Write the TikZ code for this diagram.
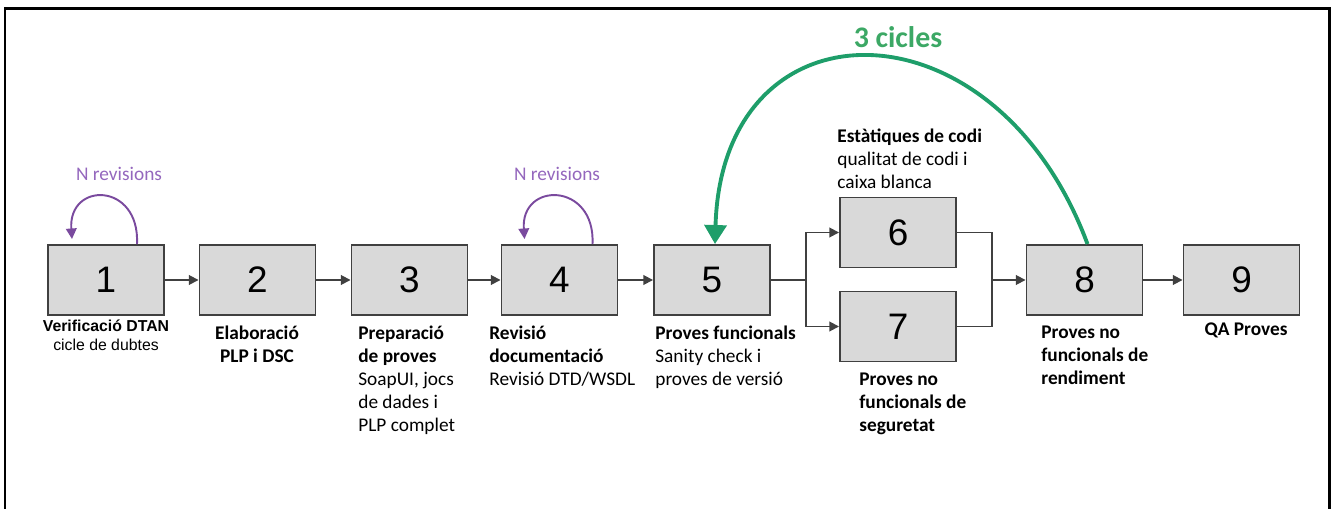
\documentclass[tikz,border=0pt]{standalone}
\usepackage{fontspec}
\usepackage{tikz}
\usetikzlibrary{arrows.meta,positioning}
\newfontfamily\carl{Carlito}
\newfontfamily\arialf{Liberation Sans}
\definecolor{boxgray}{HTML}{D9D9D9}
\definecolor{edgegray}{HTML}{404040}
\definecolor{loopviolet}{HTML}{7A4A9E}
\definecolor{revtext}{HTML}{9467BD}
\definecolor{cyclegreen}{HTML}{1E9E6A}
\definecolor{cycletext}{HTML}{3CA865}

\begin{document}
\begin{tikzpicture}[
  x=0.02cm, y=-0.02cm,
  stage/.style={draw=edgegray, line width=1.1pt, fill=boxgray, minimum width=2.32cm, minimum height=1.4cm, inner sep=0pt, font=\arialf\fontsize{21}{24}\selectfont},
  lbl/.style={font=\carl\fontsize{11}{13}\selectfont, align=left, inner sep=0pt},
  flow/.style={draw=edgegray, line width=1pt},
  revloop/.style={draw=loopviolet, line width=1.1pt, -{Triangle[length=6pt,width=6pt]}},
  revlbl/.style={font=\carl\fontsize{11}{13}\selectfont, text=revtext, inner sep=0pt},
  >={Triangle[length=5.5pt,width=5.5pt]}
]
  \useasboundingbox (0,0) rectangle (1332,509);
  \begin{scope}
    \clip (0,0) rectangle (1332,509);
    \draw[line width=1.7pt] (5,530) -- (5,9) -- (1329,9) -- (1329,530);
  \end{scope}

  \node[stage] (b1) at (106,280) {1};
  \node[stage] (b2) at (257.5,280) {2};
  \node[stage] (b3) at (409.5,280) {3};
  \node[stage] (b4) at (559.5,280) {4};
  \node[stage] (b5) at (712,280) {5};
  \node[stage] (b6) at (898,232.5) {6};
  \node[stage] (b7) at (898,326.5) {7};
  \node[stage] (b8) at (1084.5,280) {8};
  \node[stage] (b9) at (1241.5,280) {9};
  \coordinate (split) at (806,280);
  \coordinate (join) at (992,280);

  \draw[flow,->] (b1) -- (b2);
  \draw[flow,->] (b2) -- (b3);
  \draw[flow,->] (b3) -- (b4);
  \draw[flow,->] (b4) -- (b5);
  \draw[flow] (b5) -- (split);
  \draw[flow,->] (split) |- (b6);
  \draw[flow,->] (split) |- (b7);
  \draw[flow] (b6) -| (join);
  \draw[flow] (b7) -| (join);
  \draw[flow,->] (join) -- (b8);
  \draw[flow,->] (b8) -- (b9);

  \draw[revloop] ([shift={(31,0)}]b1.north) .. controls +(3,-62) and +(-4,-58) .. ([shift={(-34,-5)}]b1.north);
  \draw[revloop] ([shift={(33,0)}]b4.north) .. controls +(3,-62) and +(-4,-58) .. ([shift={(-35,-5)}]b4.north);
  \node[revlbl] (rev1) at (119,174) {N revisions};
  \node[revlbl] (rev4) at (557,174) {N revisions};

  \draw[draw=cyclegreen, line width=2.2pt, -{Triangle[length=0.38cm,width=0.44cm]}]
    ([shift={(3,0)}]b8.north) .. controls (995,-5) and (722,-5) .. ([shift={(3,0)}]b5.north);
  \node[font=\carl\bfseries\fontsize{17}{20}\selectfont, text=cycletext] (cyc) at (898,37) {3 cicles};

  \node[font=\arialf\fontsize{9}{10.5}\selectfont, align=center, inner sep=0pt, anchor=north] (l1) at (106,320) {\textbf{Verificació DTAN}\\cicle de dubtes};
  \node[lbl, align=center, anchor=north] (l2) at (257,326) {\textbf{Elaboració}\\\textbf{PLP i DSC}};
  \node[lbl, anchor=north west] (l3) at (358,326) {\textbf{Preparació}\\\textbf{de proves}\\SoapUI, jocs\\de dades i\\PLP complet};
  \node[lbl, anchor=north west] (l4) at (489,326) {\textbf{Revisió}\\\textbf{documentació}\\Revisió DTD/WSDL};
  \node[lbl, anchor=north west] (l5) at (655,326) {\textbf{Proves funcionals}\\Sanity check i\\proves de versió};
  \node[lbl, anchor=north west] (l6) at (837,129) {\textbf{Estàtiques de codi}\\qualitat de codi i\\caixa blanca};
  \node[lbl, anchor=north west] (l7) at (859,373) {\textbf{Proves no}\\\textbf{funcionals de}\\\textbf{seguretat}};
  \node[lbl, anchor=north west] (l8) at (1041,326) {\textbf{Proves no}\\\textbf{funcionals de}\\\textbf{rendiment}};
  \node[lbl, anchor=north] (l9) at (1246,322) {\textbf{QA Proves}};
\end{tikzpicture}
\end{document}
